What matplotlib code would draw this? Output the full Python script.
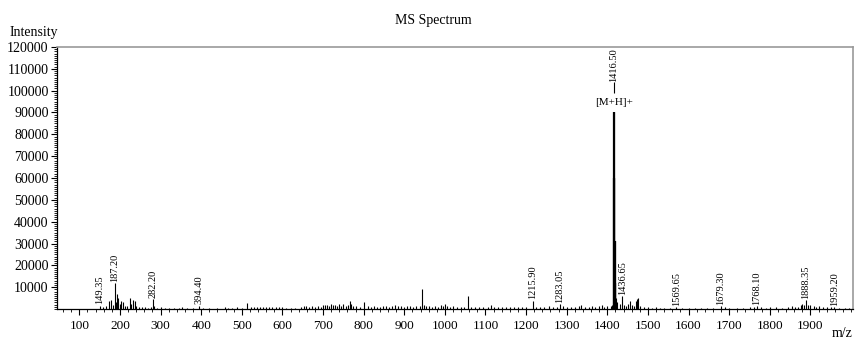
import matplotlib
matplotlib.use('Agg')
import matplotlib.pyplot as plt
from matplotlib.ticker import MultipleLocator

plt.rcParams['font.family'] = ['Liberation Serif', 'DejaVu Serif']

# peak list (m/z, intensity)
mz = [150, 158, 165, 173, 178, 183, 187.2, 190, 192, 195, 199, 203, 207, 212, 218,
      225, 228, 232, 236, 240, 248, 255, 262, 270, 276, 282.2, 285, 292, 300, 310,
      320, 333, 345, 352, 365, 380, 394.4, 405, 420, 440, 458, 466, 476, 488, 500,
      513, 522, 530, 537, 545, 552, 560, 568, 575, 583, 592, 600, 610, 620, 630,
      645, 652, 658, 665, 672, 680, 688, 694, 700, 705, 710, 715, 720, 725, 730,
      735, 740, 745, 750, 756, 762, 767, 770, 775, 782, 790, 802, 810, 818, 825,
      832, 840, 848, 856, 862, 870, 878, 885, 892, 900, 907, 915, 922, 930, 938,
      943, 948, 953, 960, 968, 975, 982, 990, 995, 1000, 1005, 1012, 1020, 1030, 1040,
      1048, 1057, 1065, 1075, 1085, 1095, 1105, 1113, 1120, 1130, 1140, 1150, 1160, 1170, 1180,
      1190, 1200, 1215.9, 1225, 1235, 1245, 1256, 1265, 1275, 1283.05, 1292, 1300, 1310, 1320, 1330,
      1336, 1345, 1355, 1362, 1370, 1380, 1386, 1392, 1400, 1408, 1412, 1416.5, 1417.5, 1418.5, 1419.5,
      1421, 1425, 1430, 1436.65, 1440, 1445, 1450, 1455, 1460, 1465, 1470, 1472, 1475, 1480, 1490,
      1500, 1510, 1520, 1530, 1540, 1555, 1569.65, 1585, 1600, 1615, 1630, 1645, 1660, 1679.3, 1690,
      1700, 1720, 1735, 1752, 1760, 1768.1, 1778, 1790, 1800, 1815, 1830, 1845, 1855, 1862, 1870,
      1876, 1880, 1885, 1888.35, 1893, 1900, 1908, 1915, 1922, 1930, 1940, 1950, 1959.2, 1970, 1985,
      1995]
intensity = [1500, 800, 1200, 3800, 4200, 2000, 12000, 3000, 7000, 5000, 2500, 3500, 3000, 1500, 1200,
             5000, 2500, 4000, 3500, 1500, 1000, 800, 700, 600, 800, 4500, 1500, 600, 700, 500,
             600, 500, 600, 800, 500, 600, 1500, 600, 500, 400, 700, 500, 600, 900, 500,
             2800, 800, 1000, 900, 1100, 800, 900, 700, 800, 1000, 900, 700, 500, 600, 500,
             900, 1200, 1500, 1100, 1300, 900, 1200, 1000, 2000, 1800, 2000, 1500, 2200, 1700, 2000,
             1500, 2200, 1600, 2300, 1500, 1800, 3500, 2500, 1500, 1200, 1000, 3000, 1200, 1000, 1300,
             1100, 1000, 1300, 1200, 1000, 1500, 2000, 1300, 1200, 1100, 1500, 1200, 1000, 1200, 1300,
             9000, 2000, 1500, 1200, 1000, 1300, 1000, 1800, 1200, 2500, 1500, 1000, 1200, 900, 1000,
             800, 6000, 800, 900, 700, 900, 800, 2000, 900, 700, 800, 700, 900, 800, 700,
             900, 700, 3800, 800, 700, 900, 1500, 700, 900, 2300, 1200, 900, 800, 700, 1500,
             1800, 900, 700, 1300, 900, 1200, 1800, 1000, 1400, 1500, 2000, 90000, 60000, 31000, 12000,
             5000, 3000, 2500, 6000, 2000, 1500, 2500, 3500, 2000, 1500, 3500, 4500, 5000, 1200, 800,
             700, 600, 700, 600, 500, 600, 1000, 500, 600, 500, 600, 500, 600, 1200, 700,
             600, 500, 600, 1000, 900, 1300, 700, 600, 800, 1000, 600, 700, 1200, 900, 1000,
             1800, 2500, 2000, 4000, 2000, 1800, 1200, 1100, 1300, 1000, 800, 700, 1000, 500, 400,
             400]

# labelled peaks
label_mz = [149.35, 187.20, 282.20, 394.40, 1215.90, 1283.05, 1436.65,
            1569.65, 1679.30, 1768.10, 1888.35, 1959.20]
label_h = [1500, 12000, 4500, 1500, 3800, 2300, 6000, 1000, 1200, 1300, 4000, 1000]
base_mz = 1416.50
base_h = 90000
base_note = '[M+H]+'

fig = plt.figure(figsize=(8.55, 3.45), dpi=100)
ax = fig.add_axes([0.0667, 0.1043, 0.931, 0.7595])

ax.vlines(mz, 0, intensity, color='black', linewidth=0.8)
# the base peak cluster is drawn heavier, as in the original
big = [(m, h) for m, h in zip(mz, intensity) if h > 10000 and m > 1400]
ax.vlines([b[0] for b in big], 0, [b[1] for b in big], color='black', linewidth=1.6)

for m, h in zip(label_mz, label_h):
    ax.text(m, h + 600, '%.2f' % m, rotation=90, ha='center', va='bottom', fontsize=7.5)

# base peak annotation
ax.text(base_mz, base_h + 2500, base_note, ha='center', va='bottom', fontsize=8)
ax.vlines(base_mz, base_h + 9000, base_h + 14000, color='black', linewidth=0.8)
ax.text(base_mz, base_h + 14000, '%.2f' % base_mz, rotation=90, ha='center', va='bottom', fontsize=7.5)

ax.set_xlim(45, 2005)
ax.set_ylim(0, 120000)
ax.set_yticks(range(10000, 120001, 10000))
ax.set_xticks(range(100, 2000, 100))
ax.xaxis.set_minor_locator(MultipleLocator(20))
ax.yaxis.set_minor_locator(MultipleLocator(1000))
ax.tick_params(axis='both', which='major', labelsize=9.5, direction='out', length=4, width=0.8, pad=2)
ax.tick_params(axis='y', labelsize=10)
ax.tick_params(axis='both', which='minor', direction='out', length=2, width=0.6)
ax.tick_params(axis='x', pad=4)

for s in ['top', 'right']:
    ax.spines[s].set_color('#999999')
    ax.spines[s].set_linewidth(1.2)
for s in ['left', 'bottom']:
    ax.spines[s].set_color('black')
    ax.spines[s].set_linewidth(0.9)

fig.text(0.507, 0.94, 'MS Spectrum', ha='center', va='center', fontsize=10)
fig.text(0.011, 0.905, 'Intensity', ha='left', va='center', fontsize=10)
fig.text(0.997, 0.015, 'm/z', ha='right', va='bottom', fontsize=10)

fig.savefig('out.png', dpi=100)
